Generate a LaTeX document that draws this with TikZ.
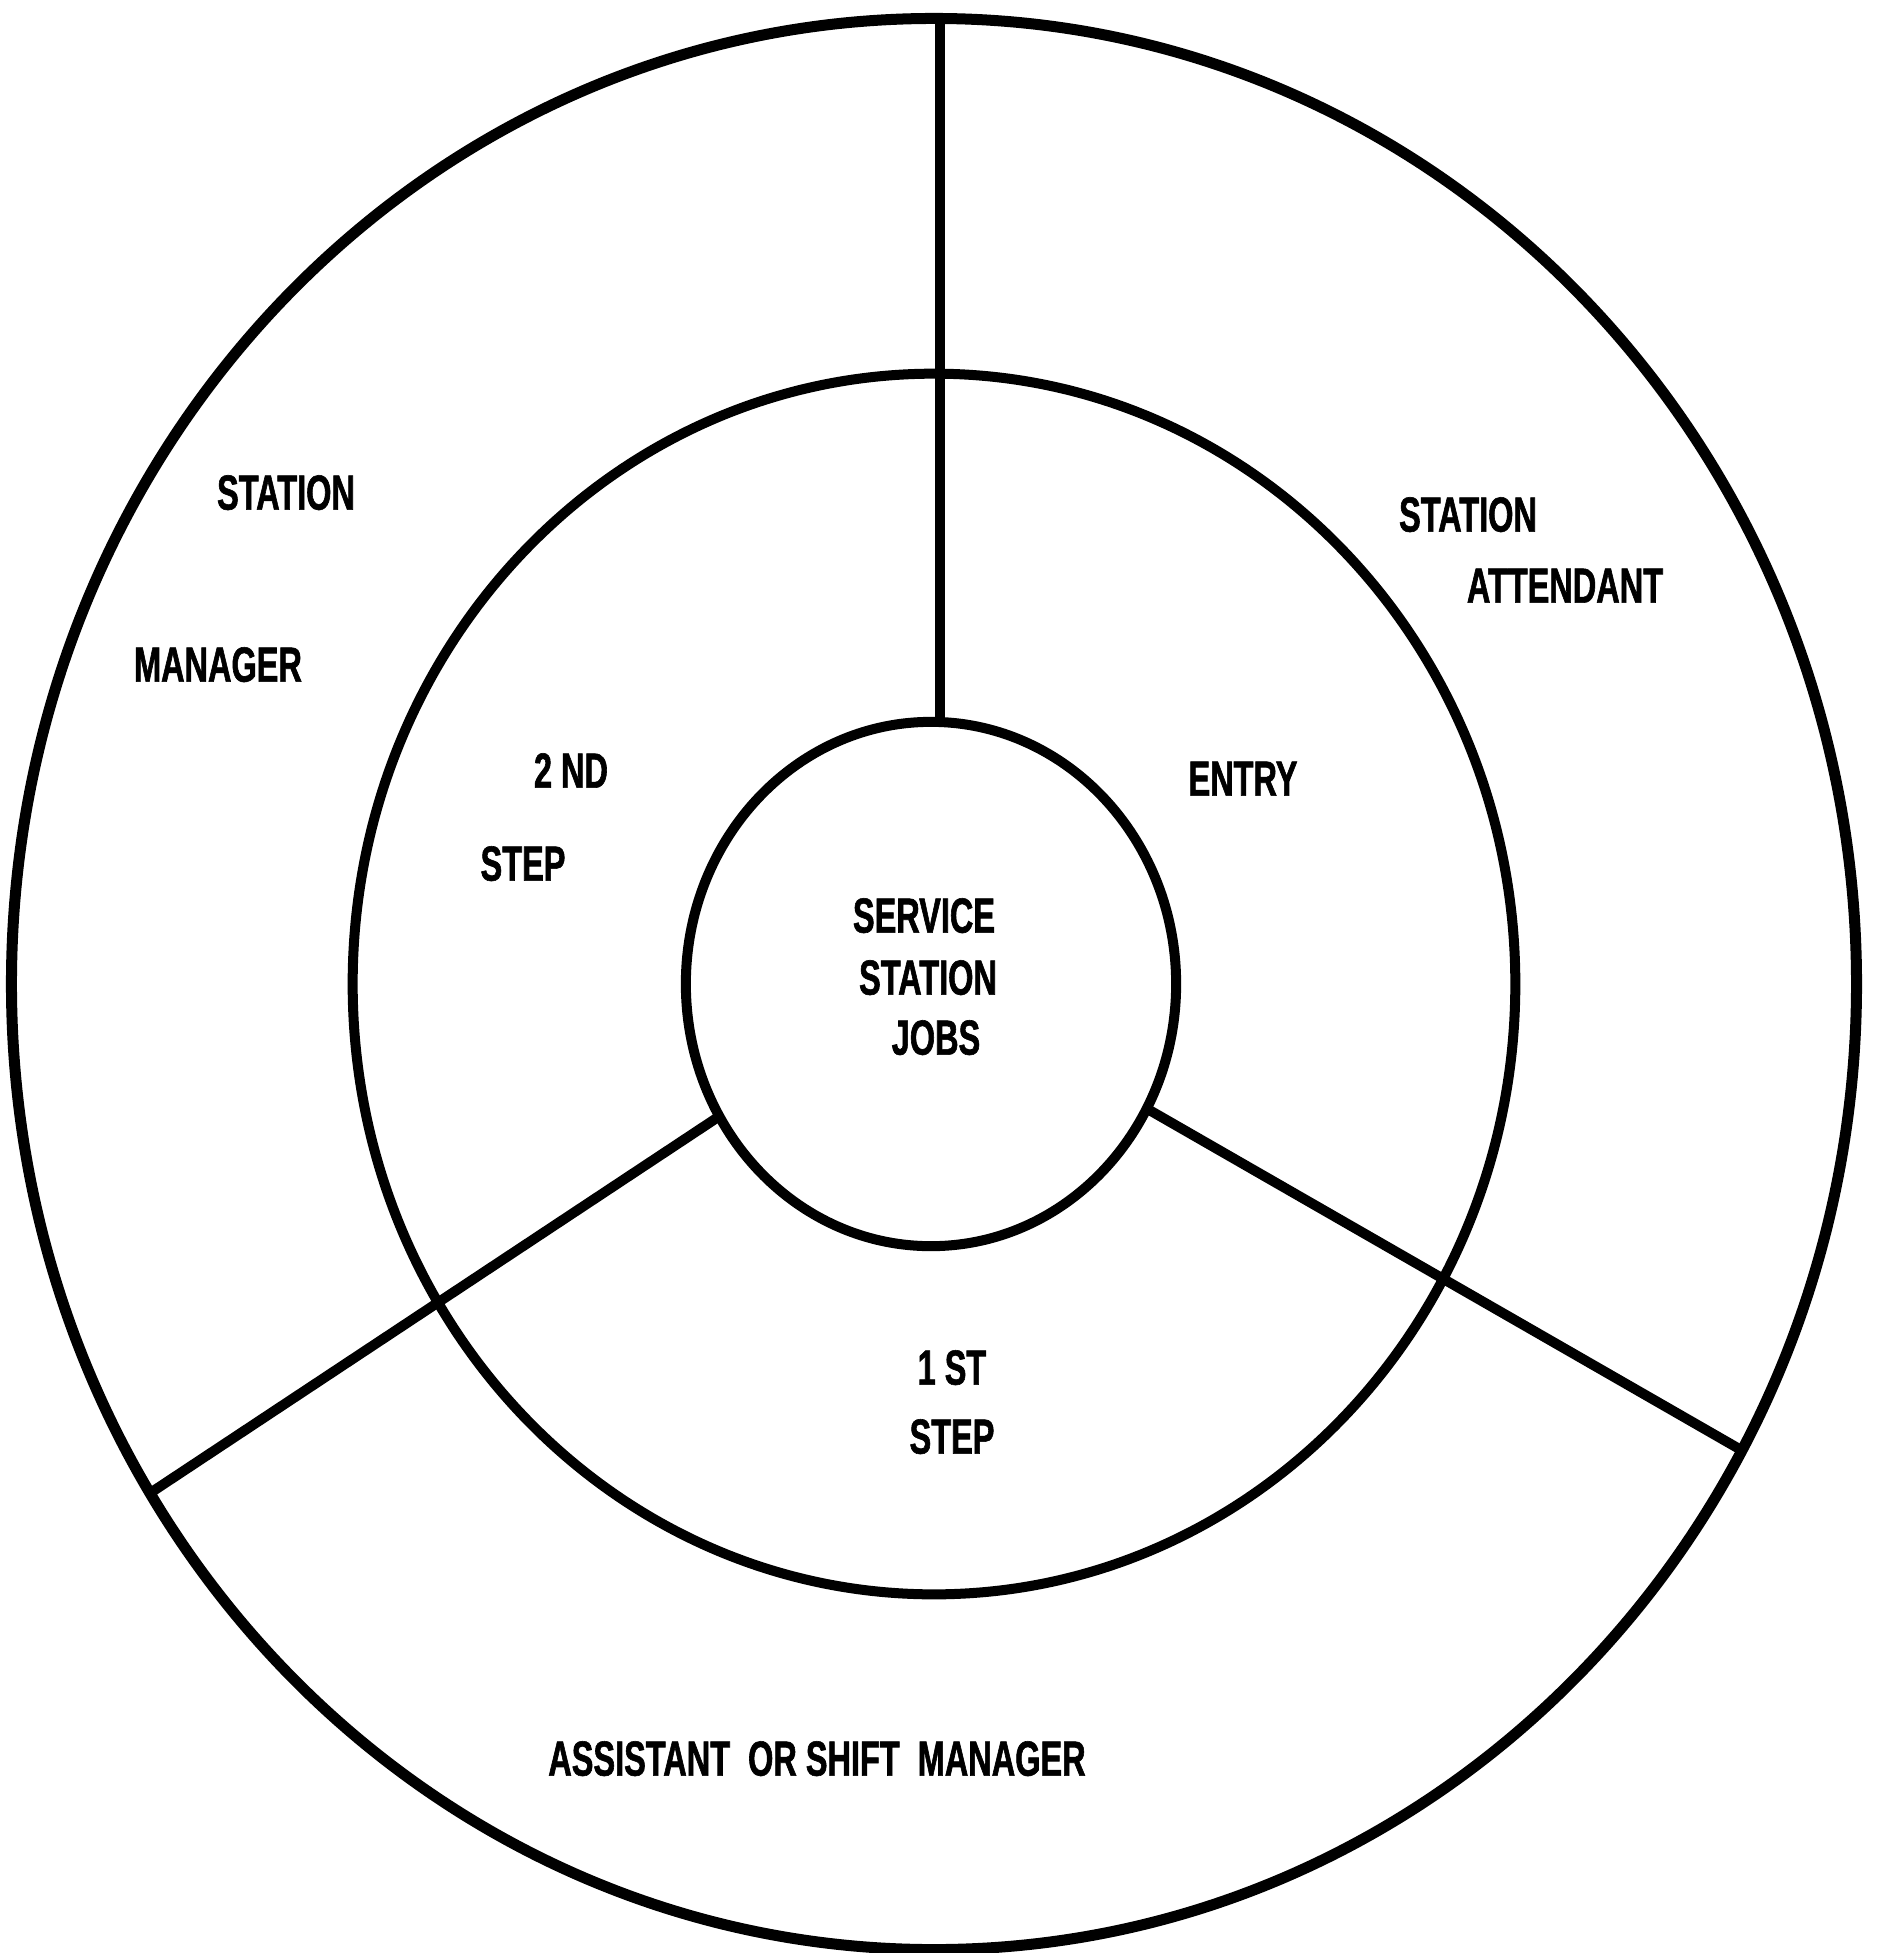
\documentclass[tikz,border=0pt]{standalone}
\usepackage{fontspec}
\newfontfamily\lblfont[FakeStretch=0.66,FakeBold=1.2]{Liberation Sans}
\usetikzlibrary{shapes.geometric}
\tikzset{
  ring/.style={draw=black, ellipse, inner sep=0pt, outer sep=0pt, line width=0.1cm},
  spoke/.style={draw=black, line width=0.1cm},
  lbl/.style={inner sep=0pt, text height=10pt, text depth=0pt,
    font=\lblfont\bfseries\fontsize{14}{16}\selectfont}
}
\begin{document}
\begin{tikzpicture}[x=0.01cm, y=-0.01cm]
\path[use as bounding box] (0,0) rectangle (1878,1953);
% rings
\node[ring, line width=0.11cm, minimum width=18.44cm, minimum height=19.30cm] (outer) at (934,984) {};
\node[ring, minimum width=11.62cm, minimum height=12.20cm] (middle) at (934,984) {};
\node[ring, minimum width=4.90cm, minimum height=5.24cm] (inner) at (931,984) {};
% spokes
\draw[spoke] (inner.88) -- (inner.88 |- outer.north);
\draw[spoke] (inner.212.5) -- (outer.213.2);
\draw[spoke] (inner.330) -- (outer.330.1);
% labels
\node[lbl] (sm1) at (286,492) {STATION};
\node[lbl] (sm2) at (218,664) {MANAGER};
\node[lbl] (sa1) at (1468,514) {STATION};
\node[lbl] (sa2) at (1565,585) {ATTENDANT};
\node[lbl] (nd1) at (571,770) {2 ND};
\node[lbl] (nd2) at (523,863) {STEP};
\node[lbl] (en) at (1243,778) {ENTRY};
\node[lbl] (c1) at (924,915) {SERVICE};
\node[lbl] (c2) at (928,977) {STATION};
\node[lbl] (c3) at (936,1037) {JOBS};
\node[lbl] (st1) at (952,1367) {1 ST};
\node[lbl] (st2) at (952,1436) {STEP};
\node[lbl] (asm) at (817,1758) {ASSISTANT\ \ OR SHIFT\ \ MANAGER};
\end{tikzpicture}
\end{document}
